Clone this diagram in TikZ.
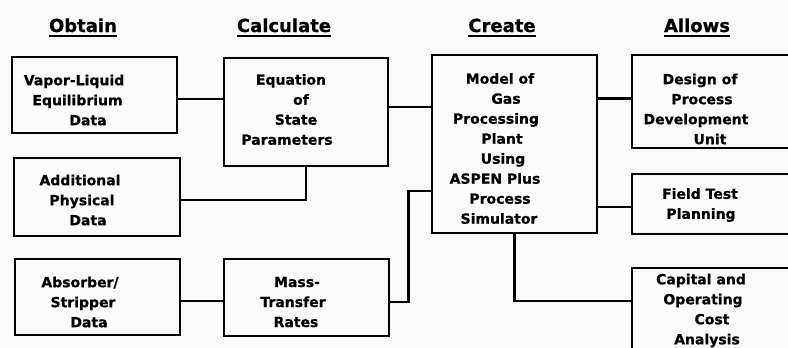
\documentclass[tikz,border=0pt]{standalone}
\usepackage{fontspec}
\setmainfont{DejaVu Sans}[BoldFeatures={FakeBold=0.6}]
\newcommand\SL[2]{\makebox[0pt]{\hspace*{#1pt}#2}}
\begin{document}
\begin{tikzpicture}[x=1pt,y=-1pt,
  box/.style={draw, line width=2.7pt, inner sep=0pt},
  lbl/.style={align=center, font=\bfseries\fontsize{14}{20}\selectfont, inner sep=0pt},
  head/.style={font=\bfseries\fontsize{18}{22}\selectfont, inner sep=0pt, anchor=base},
  uline/.style={line width=2pt},
  conn/.style={line width=2.4pt}]
\useasboundingbox (0,0) rectangle (788,348);
\clip (0,0) rectangle (788,348);
\fill[gray!4] (0,0) rectangle (788,348);

% headers
\node[head] (h1) at (83,32) {Obtain};
\node[head] (h2) at (284,32) {Calculate};
\node[head] (h3) at (502,32) {Create};
\node[head] (h4) at (697,32) {Allows};
\foreach \h in {h1,h2,h3,h4}
  \draw[uline] ([yshift=-3.5pt]\h.base west) -- ([yshift=-3.5pt]\h.base east);

% boxes
\node[box, minimum width=165pt, minimum height=76pt] (vle) at (94.5,95) {};
\node[box, minimum width=164pt, minimum height=108pt] (eos) at (306,112) {};
\node[box, minimum width=166pt, minimum height=78pt] (apd) at (97,197) {};
\node[box, minimum width=165pt, minimum height=76pt] (asd) at (97.5,297) {};
\node[box, minimum width=165pt, minimum height=77pt] (mtr) at (306.5,297.5) {};
\node[box, minimum width=165pt, minimum height=178pt] (mod) at (514.5,144) {};
\node[box, minimum width=165pt, minimum height=93pt] (dpu) at (714.5,101.5) {};
\node[box, minimum width=165pt, minimum height=60pt] (fld) at (714.5,204) {};
\node[box, minimum width=165pt, minimum height=88pt] (cap) at (714.5,312) {};

% texts
\node[lbl] (vlet) at (80,100) {\SL{-12}{Vapor-Liquid}\\\SL{-5}{Equilibrium}\\\SL{16}{Data}};
\node[lbl] (eost) at (294,109.5) {\SL{-6}{Equation}\\\SL{14}{of}\\\SL{4}{State}\\\SL{-14}{Parameters}};
\node[lbl] (apdt) at (83,200) {\SL{-6}{Additional}\\\SL{-2}{Physical}\\\SL{10}{Data}};
\node[lbl] (asdt) at (84,302) {\SL{-8}{Absorber/}\\\SL{-2}{Stripper}\\\SL{10}{Data}};
\node[lbl] (mtrt) at (295,302) {\SL{4}{Mass-}\\\SL{-4}{Transfer}\\\SL{2}{Rates}};
\node[lbl] (modt) at (500,148.5) {\SL{0}{Model of}\\\SL{12}{Gas}\\\SL{-8}{Processing}\\\SL{4}{Plant}\\\SL{6}{Using}\\\SL{-10}{ASPEN Plus}\\\SL{0}{Process}\\\SL{-2}{Simulator}};
\node[lbl] (dput) at (702,109) {\SL{-4}{Design of}\\\SL{0}{Process}\\\SL{-12}{Development}\\\SL{16}{Unit}};
\node[lbl] (fldt) at (700,205) {\SL{0}{Field Test}\\\SL{2}{Planning}};
\node[lbl] (capt) at (705,310.5) {\SL{-8}{Capital and}\\\SL{-4}{Operating}\\\SL{14}{Cost}\\\SL{4}{Analysis}};

% connectors
\draw[conn] ([yshift=-4pt]vle.east) -- ([yshift=-4pt]vle.east -| eos.west);
\draw[conn] ([yshift=5pt]eos.east) -- ([yshift=5pt]eos.east -| mod.west);
\draw[conn] ([yshift=3pt]dpu.west -| mod.east) -- ([yshift=3pt]dpu.west);
\draw[conn] ([yshift=-3pt]apd.east) -| (eos.south);
\draw[conn] ([yshift=-4pt]asd.east) -- ([yshift=-4pt]asd.east -| mtr.west);
\draw[conn] ([yshift=-4.5pt]mtr.east) -| ([xshift=-22pt,yshift=-47pt]mod.west) -- ([yshift=-47pt]mod.west);
\draw[conn] ([yshift=-3pt]fld.west -| mod.east) -- ([yshift=-3pt]fld.west);
\draw[conn] (mod.south) |- ([yshift=11pt]cap.west);
\end{tikzpicture}
\end{document}
